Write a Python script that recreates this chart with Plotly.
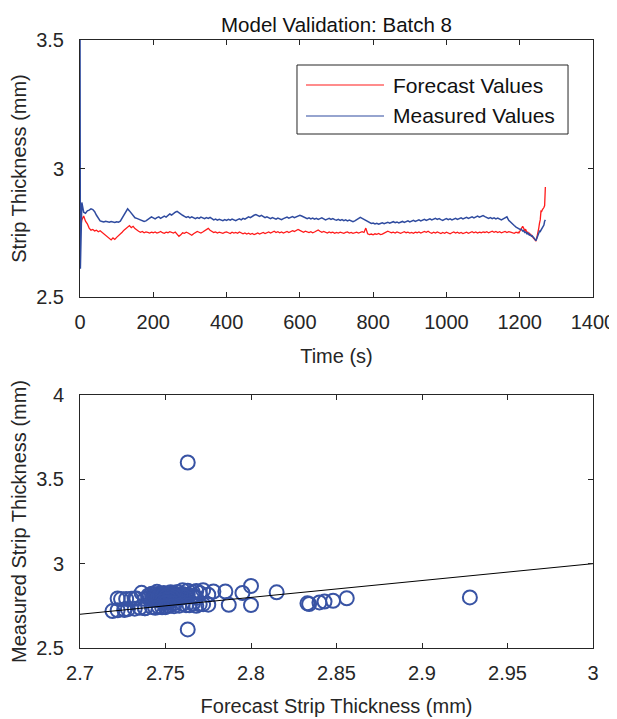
import plotly.graph_objects as go

# ---------------- data ----------------
# time axis (s): two start samples, 5 s sampling, 2 s sampling over the final dip/rise
time_s = [0, 1] + list(range(5, 1196, 5)) + list(range(1196, 1271, 2))

forecast_mm = [
    2.763, 2.763,
    2.800, 2.815, 2.795, 2.785, 2.768, 2.760, 2.763, 2.757, 2.760, 2.754,
    2.758, 2.752, 2.748, 2.740, 2.733, 2.727, 2.722, 2.730, 2.724, 2.732,
    2.738, 2.745, 2.752, 2.760, 2.766, 2.772, 2.778, 2.770, 2.775, 2.766,
    2.760, 2.756, 2.752, 2.755, 2.750, 2.753, 2.751, 2.749, 2.752, 2.750,
    2.753, 2.749, 2.751, 2.755, 2.750, 2.748, 2.752, 2.750, 2.754, 2.751,
    2.749, 2.753, 2.745, 2.736, 2.742, 2.750, 2.748, 2.752, 2.749, 2.744,
    2.740, 2.746, 2.751, 2.755, 2.752, 2.749, 2.753, 2.758, 2.762, 2.767,
    2.760, 2.754, 2.751, 2.753, 2.749, 2.752, 2.750, 2.748, 2.751, 2.753,
    2.750, 2.747, 2.752, 2.749, 2.751, 2.748, 2.753, 2.750, 2.746, 2.749,
    2.745, 2.748, 2.744, 2.747, 2.743, 2.746, 2.749, 2.745, 2.748, 2.751,
    2.747, 2.750, 2.753, 2.749, 2.752, 2.756, 2.751, 2.754, 2.750, 2.753,
    2.749, 2.752, 2.755, 2.751, 2.754, 2.758, 2.755, 2.760, 2.763, 2.759,
    2.755, 2.752, 2.756, 2.753, 2.751, 2.754, 2.750, 2.753, 2.757, 2.761,
    2.756, 2.752, 2.755, 2.751, 2.749, 2.753, 2.750, 2.752, 2.748, 2.751,
    2.749, 2.752, 2.750, 2.748, 2.751, 2.753, 2.749, 2.751, 2.748, 2.750,
    2.752, 2.749, 2.751, 2.754, 2.751, 2.768, 2.746, 2.743, 2.745, 2.742,
    2.746, 2.744, 2.747, 2.743, 2.745, 2.749, 2.752, 2.756, 2.753, 2.750,
    2.752, 2.749, 2.753, 2.750, 2.748, 2.751, 2.754, 2.750, 2.752, 2.749,
    2.751, 2.748, 2.752, 2.750, 2.753, 2.749, 2.751, 2.755, 2.752, 2.756,
    2.751, 2.748, 2.752, 2.749, 2.753, 2.750, 2.747, 2.751, 2.748, 2.752,
    2.749, 2.746, 2.750, 2.753, 2.749, 2.752, 2.748, 2.751, 2.747, 2.750,
    2.752, 2.748, 2.751, 2.754, 2.750, 2.753, 2.749, 2.752, 2.750, 2.753,
    2.751, 2.754, 2.750, 2.753, 2.756, 2.752, 2.755, 2.751, 2.754, 2.750,
    2.753, 2.755, 2.751, 2.754, 2.752, 2.750, 2.748, 2.752, 2.749,
    2.752, 2.750, 2.755, 2.760, 2.766, 2.772, 2.775, 2.770, 2.762, 2.758,
    2.764, 2.755, 2.750, 2.752, 2.746, 2.748, 2.742, 2.744, 2.738, 2.735,
    2.732, 2.728, 2.726, 2.722, 2.719, 2.726, 2.738, 2.750, 2.768, 2.787,
    2.800, 2.834, 2.833, 2.840, 2.843, 2.848, 2.856, 2.928,
]

measured_mm = [
    3.600, 2.610,
    2.868, 2.830, 2.826, 2.835, 2.838, 2.843, 2.840, 2.832, 2.818, 2.805,
    2.796, 2.794, 2.792, 2.795, 2.793, 2.791, 2.794, 2.792, 2.790, 2.793,
    2.791, 2.795, 2.808, 2.818, 2.830, 2.843, 2.835, 2.826, 2.816, 2.808,
    2.806, 2.803, 2.800, 2.797, 2.794, 2.796, 2.801, 2.806, 2.812, 2.808,
    2.804, 2.809, 2.812, 2.806, 2.810, 2.815, 2.811, 2.818, 2.823, 2.819,
    2.826, 2.830, 2.833, 2.827, 2.822, 2.818, 2.814, 2.810, 2.813, 2.808,
    2.812, 2.808, 2.805, 2.809, 2.806, 2.811, 2.807, 2.805, 2.809, 2.806,
    2.810, 2.804, 2.800, 2.803, 2.799, 2.802, 2.800, 2.797, 2.801, 2.798,
    2.802, 2.799, 2.803, 2.800, 2.797, 2.801, 2.804, 2.800, 2.806, 2.803,
    2.808, 2.812, 2.809, 2.815, 2.818, 2.821, 2.817, 2.814, 2.818, 2.812,
    2.809, 2.812, 2.808, 2.805, 2.809, 2.806, 2.803, 2.807, 2.804, 2.801,
    2.805, 2.808, 2.811, 2.807, 2.810, 2.813, 2.809, 2.812, 2.816, 2.818,
    2.815, 2.812, 2.809, 2.805, 2.808, 2.804, 2.807, 2.803, 2.806, 2.802,
    2.805, 2.808, 2.804, 2.800, 2.803, 2.806, 2.802, 2.805, 2.801, 2.799,
    2.802, 2.798, 2.801, 2.797, 2.800, 2.796, 2.799, 2.795, 2.793, 2.796,
    2.800, 2.805, 2.810, 2.806, 2.802, 2.797, 2.793, 2.790, 2.786, 2.788,
    2.784, 2.787, 2.783, 2.786, 2.789, 2.785, 2.788, 2.791, 2.787, 2.790,
    2.793, 2.789, 2.792, 2.788, 2.791, 2.794, 2.790, 2.793, 2.796, 2.792,
    2.795, 2.798, 2.794, 2.797, 2.800, 2.796, 2.799, 2.802, 2.798, 2.801,
    2.804, 2.800, 2.803, 2.806, 2.802, 2.805, 2.801, 2.798, 2.802, 2.805,
    2.801, 2.804, 2.800, 2.803, 2.806, 2.802, 2.805, 2.808, 2.804, 2.807,
    2.810, 2.806, 2.809, 2.812, 2.808, 2.811, 2.815, 2.811, 2.814, 2.817,
    2.813, 2.810, 2.806, 2.809, 2.805, 2.808, 2.804, 2.807, 2.803, 2.800,
    2.804, 2.808, 2.812, 2.798, 2.790, 2.785, 2.778, 2.772, 2.768,
    2.770, 2.767, 2.765, 2.762, 2.764, 2.760, 2.757, 2.759, 2.754, 2.751,
    2.753, 2.748, 2.746, 2.749, 2.744, 2.741, 2.743, 2.738, 2.736, 2.738,
    2.733, 2.730, 2.728, 2.724, 2.719, 2.726, 2.735, 2.742, 2.750, 2.756,
    2.755, 2.761, 2.765, 2.770, 2.775, 2.780, 2.795, 2.800,
]

identity_line = [2.7, 3.0]

top_xticks = [0, 200, 400, 600, 800, 1000, 1200, 1400]
top_yticks = [2.5, 3, 3.5]
top_yticklabels = ["2.5", "3", "3.5"]
bot_xticks = [2.7, 2.75, 2.8, 2.85, 2.9, 2.95, 3.0]
bot_xticklabels = ["2.7", "2.75", "2.8", "2.85", "2.9", "2.95", "3"]
bot_yticks = [2.5, 3, 3.5, 4]
bot_yticklabels = ["2.5", "3", "3.5", "4"]

FONT = "Liberation Sans, Arial, Helvetica, sans-serif"
AX = "#262626"
RED = "#ff1a1a"
BLUE = "#2f4b9f"
SCAT = "#3853a4"

fig = go.Figure()
fig.add_trace(go.Scatter(x=time_s, y=forecast_mm, mode="lines", name="Forecast Values",
                         line=dict(color=RED, width=1.3), xaxis="x", yaxis="y",
                         showlegend=False))
fig.add_trace(go.Scatter(x=time_s, y=measured_mm, mode="lines", name="Measured Values",
                         line=dict(color=BLUE, width=1.5), xaxis="x", yaxis="y",
                         showlegend=False))
fig.add_trace(go.Scatter(x=forecast_mm, y=measured_mm, mode="markers",
                         marker=dict(symbol="circle-open", size=14, color=SCAT,
                                     line=dict(width=2, color=SCAT)),
                         xaxis="x2", yaxis="y2", showlegend=False))
fig.add_trace(go.Scatter(x=identity_line, y=identity_line, mode="lines",
                         line=dict(color="black", width=1), xaxis="x2", yaxis="y2",
                         showlegend=False))

axis_common = dict(showline=True, linecolor=AX, linewidth=1, mirror="allticks",
                   ticks="inside", ticklen=5, tickwidth=1, tickcolor=AX,
                   showgrid=False, zeroline=False, automargin=False,
                   ticklabeloverflow="allow",
                   tickfont=dict(family=FONT, size=20, color=AX))

fig.update_layout(
    width=609, height=711,
    margin=dict(l=72, r=24, t=32, b=70.7),
    plot_bgcolor="white", paper_bgcolor="white",
    font=dict(family=FONT, color=AX),
    title=dict(text="Model Validation: Batch 8", x=0.5, xref="paper",
               y=1 - 16.5 / 711, yref="container", yanchor="middle", xanchor="center",
               font=dict(family=FONT, size=20.5, color="#111111")),
    xaxis=dict(domain=[0, 1], anchor="y", range=[0, 1400], tickvals=top_xticks,
               ticklabelstandoff=7,
               title=dict(text="Time (s)", font=dict(size=20, color=AX), standoff=16),
               **axis_common),
    yaxis=dict(domain=[351 / 608, 1], anchor="x", range=[2.5, 3.5], tickvals=top_yticks,
               ticktext=top_yticklabels, ticklabelstandoff=11,
               title=dict(text="Strip Thickness (mm)", font=dict(size=20, color=AX), standoff=12),
               **axis_common),
    xaxis2=dict(domain=[0, 1], anchor="y2", range=[2.7, 3.0], tickvals=bot_xticks,
                ticktext=bot_xticklabels, ticklabelstandoff=7,
                title=dict(text="Forecast Strip Thickness (mm)", font=dict(size=20, color=AX), standoff=15),
                **axis_common),
    yaxis2=dict(domain=[0, 253 / 608], anchor="x2", range=[2.5, 4.0], tickvals=bot_yticks,
                ticktext=bot_yticklabels, ticklabelstandoff=11,
                title=dict(text="Measured Strip Thickness (mm)", font=dict(size=20, color=AX), standoff=12),
                **axis_common),
)

lx0, lx1, ly0, ly1 = 0.423, 0.9513, 0.6342, 0.9027
fig.add_shape(type="rect", xref="x domain", yref="y domain", x0=lx0, x1=lx1, y0=ly0, y1=ly1,
              line=dict(color=AX, width=1), fillcolor="white", layer="above")
for yy, col, lab in [(0.8249, RED, "Forecast Values"), (0.7043, BLUE, "Measured Values")]:
    fig.add_shape(type="line", xref="x domain", yref="y domain", x0=0.4405, x1=0.5926,
                  y0=yy, y1=yy, line=dict(color=col, width=1.1), layer="above")
    fig.add_annotation(xref="x domain", yref="y domain", x=0.6062, y=yy, text=lab,
                       showarrow=False, xanchor="left", yanchor="middle",
                       font=dict(family=FONT, size=21, color="#111111"))

fig.write_html("out.html")
